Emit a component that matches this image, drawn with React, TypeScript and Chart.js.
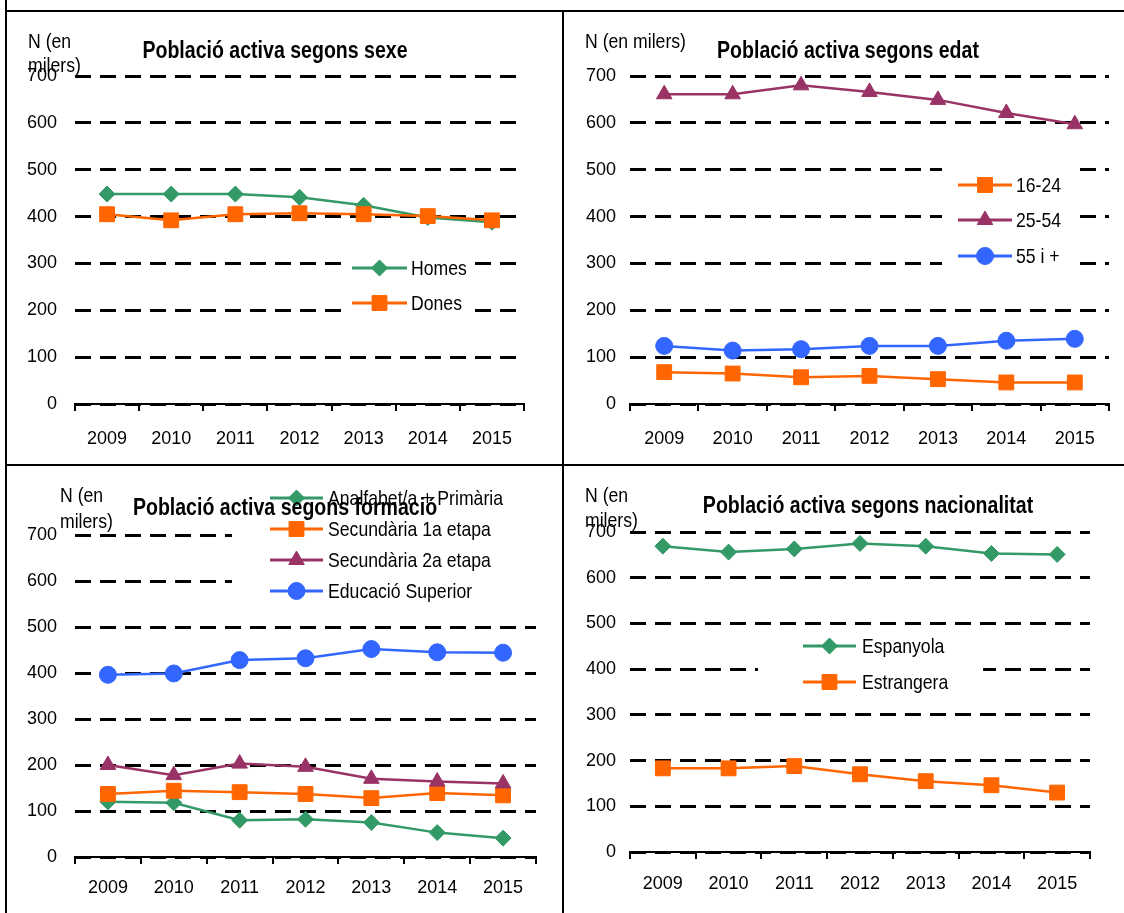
import React, { useEffect, useRef } from 'react';
import { Chart, registerables } from 'chart.js';

Chart.register(...registerables);

// ---------- data ----------
const YEARS = ['2009', '2010', '2011', '2012', '2013', '2014', '2015'];
const Y_MIN = 0;
const Y_MAX = 700;
const Y_STEP = 100;

const HOMES = [448, 448, 448, 441, 424, 398, 388];
const DONES = [405, 392, 405, 407, 405, 401, 392];

const EDAT_16_24 = [68, 65, 57, 60, 53, 46, 46];
const EDAT_25_54 = [661, 661, 680, 666, 649, 621, 597];
const EDAT_55_MES = [124, 114, 117, 124, 124, 135, 139];

const ANALF_PRIMARIA = [120, 118, 80, 82, 75, 53, 41];
const SECUNDARIA_1A = [137, 144, 141, 137, 128, 139, 134];
const SECUNDARIA_2A = [200, 178, 203, 196, 170, 164, 160];
const EDUCACIO_SUPERIOR = [396, 399, 428, 432, 452, 445, 444];

const ESPANYOLA = [669, 656, 663, 675, 669, 653, 651];
const ESTRANGERA = [183, 183, 188, 170, 155, 146, 130];

// ---------- styles ----------
const FONT = '"Liberation Sans", Arial, sans-serif';
const TICK_SIZE = 18;
const NARROW = 0.84;
const GREEN = '#339966';
const ORANGE = '#FF6600';
const PURPLE = '#993366';
const BLUE = '#3366FF';

type Shape = 'rectRot' | 'rect' | 'triangle' | 'circle';
type SStyle = { color: string; shape: Shape; radius: number };

const S_DIAMOND: SStyle = { color: GREEN, shape: 'rectRot', radius: 8 };
const S_SQUARE: SStyle = { color: ORANGE, shape: 'rect', radius: 10.5 };
const S_TRIANGLE: SStyle = { color: PURPLE, shape: 'triangle', radius: 9 };
const S_CIRCLE: SStyle = { color: BLUE, shape: 'circle', radius: 8.5 };

type Series = { label: string; data: number[]; style: SStyle };

type PanelSpec = {
  key: string;
  left: number; top: number; width: number; height: number;
  area: { left: number; right: number; top: number; bottom: number };
  yPad: number; xPad: number;
  title: { text: string; x: number; y: number };
  nLabel: { lines: string[]; x: number; y: number[] };
  legend: { box: [number, number, number, number]; rows: number[]; x1: number; x2: number; tx: number };
  series: Series[];
};

const PANELS: PanelSpec[] = [
  {
    key: 'sexe', left: 7, top: 12, width: 556, height: 452,
    area: { left: 68, right: 517, top: 64, bottom: 392 }, yPad: 18, xPad: 17,
    title: { text: 'Població activa segons sexe', x: 268, y: 40 },
    nLabel: { lines: ['N (en', 'milers)'], x: 21, y: [30, 54] },
    legend: { box: [336, 236, 130, 74], rows: [256, 291], x1: 345, x2: 400, tx: 404 },
    series: [
      { label: 'Homes', data: HOMES, style: S_DIAMOND },
      { label: 'Dones', data: DONES, style: S_SQUARE },
    ],
  },
  {
    key: 'edat', left: 564, top: 12, width: 560, height: 452,
    area: { left: 66, right: 545, top: 64, bottom: 392 }, yPad: 14, xPad: 17,
    title: { text: 'Població activa segons edat', x: 284, y: 40 },
    nLabel: { lines: ['N (en milers)'], x: 21, y: [30] },
    legend: { box: [378, 150, 134, 116], rows: [173, 208, 244], x1: 394, x2: 448, tx: 452 },
    series: [
      { label: '16-24', data: EDAT_16_24, style: S_SQUARE },
      { label: '25-54', data: EDAT_25_54, style: S_TRIANGLE },
      { label: '55 i +', data: EDAT_55_MES, style: S_CIRCLE },
    ],
  },
  {
    key: 'formacio', left: 7, top: 466, width: 556, height: 447,
    area: { left: 68, right: 529, top: 69, bottom: 391 }, yPad: 18, xPad: 13,
    title: { text: 'Població activa segons formació', x: 278, y: 43 },
    nLabel: { lines: ['N (en', 'milers)'], x: 53, y: [30, 56] },
    legend: { box: [225, 14, 331, 129], rows: [32, 63, 94, 125], x1: 263, x2: 316, tx: 321 },
    series: [
      { label: 'Analfabet/a + Primària', data: ANALF_PRIMARIA, style: S_DIAMOND },
      { label: 'Secundària 1a etapa', data: SECUNDARIA_1A, style: S_SQUARE },
      { label: 'Secundària 2a etapa', data: SECUNDARIA_2A, style: S_TRIANGLE },
      { label: 'Educació Superior', data: EDUCACIO_SUPERIOR, style: S_CIRCLE },
    ],
  },
  {
    key: 'nacionalitat', left: 564, top: 466, width: 560, height: 447,
    area: { left: 66, right: 526, top: 66, bottom: 386 }, yPad: 14, xPad: 14,
    title: { text: 'Població activa segons nacionalitat', x: 304, y: 41 },
    nLabel: { lines: ['N (en', 'milers)'], x: 21, y: [30, 55] },
    legend: { box: [194, 162, 225, 74], rows: [180, 216], x1: 239, x2: 292, tx: 298 },
    series: [
      { label: 'Espanyola', data: ESPANYOLA, style: S_DIAMOND },
      { label: 'Estrangera', data: ESTRANGERA, style: S_SQUARE },
    ],
  },
];

function drawMarker(ctx: CanvasRenderingContext2D, st: SStyle, x: number, y: number) {
  const r = st.radius;
  ctx.beginPath();
  if (st.shape === 'circle') {
    ctx.arc(x, y, r, 0, Math.PI * 2);
  } else if (st.shape === 'rect') {
    const s = Math.SQRT1_2 * r;
    ctx.rect(x - s, y - s, 2 * s, 2 * s);
  } else if (st.shape === 'rectRot') {
    ctx.moveTo(x - r, y);
    ctx.lineTo(x, y - r);
    ctx.lineTo(x + r, y);
    ctx.lineTo(x, y + r);
    ctx.closePath();
  } else {
    let a = 0;
    ctx.moveTo(x + Math.sin(a) * r, y - Math.cos(a) * r);
    a += (2 * Math.PI) / 3;
    ctx.lineTo(x + Math.sin(a) * r, y - Math.cos(a) * r);
    a += (2 * Math.PI) / 3;
    ctx.lineTo(x + Math.sin(a) * r, y - Math.cos(a) * r);
    ctx.closePath();
  }
  ctx.fillStyle = st.color;
  ctx.fill();
  ctx.lineWidth = 1;
  ctx.strokeStyle = st.color;
  ctx.stroke();
}

// condensed text (emulates a narrow sans face)
function narrowText(
  ctx: CanvasRenderingContext2D, text: string, x: number, y: number,
  font: string, align: CanvasTextAlign, sx: number
) {
  ctx.save();
  ctx.translate(x, y);
  ctx.scale(sx, 1);
  ctx.font = font;
  ctx.textAlign = align;
  ctx.textBaseline = 'middle';
  ctx.fillStyle = '#000';
  ctx.fillText(text, 0, 0);
  ctx.restore();
}

function makeDecor(spec: PanelSpec) {
  return {
    id: 'decor_' + spec.key,
    beforeDatasetsDraw(chart: any) {
      const ctx: CanvasRenderingContext2D = chart.ctx;
      const L = spec.legend;
      ctx.save();
      ctx.fillStyle = '#ffffff';
      ctx.fillRect(L.box[0], L.box[1], L.box[2], L.box[3]);
      spec.series.forEach((s, i) => {
        const y = L.rows[i];
        ctx.strokeStyle = s.style.color;
        ctx.lineWidth = 3;
        ctx.beginPath();
        ctx.moveTo(L.x1, y);
        ctx.lineTo(L.x2, y);
        ctx.stroke();
        drawMarker(ctx, s.style, (L.x1 + L.x2) / 2, y);
        narrowText(ctx, s.label, L.tx, y + 1, `21px ${FONT}`, 'left', NARROW);
      });
      ctx.restore();
    },
    afterDraw(chart: any) {
      const ctx: CanvasRenderingContext2D = chart.ctx;
      spec.nLabel.lines.forEach((t, i) =>
        narrowText(ctx, t, spec.nLabel.x, spec.nLabel.y[i], `21px ${FONT}`, 'left', NARROW)
      );
      narrowText(ctx, spec.title.text, spec.title.x, spec.title.y, `bold 23px ${FONT}`, 'center', 0.85);
    },
  };
}

function Panel({ spec }: { spec: PanelSpec }) {
  const ref = useRef<HTMLCanvasElement | null>(null);
  useEffect(() => {
    const canvas = ref.current;
    if (!canvas) return;
    const n = spec.series.length;
    const chart = new Chart(canvas, {
      type: 'line',
      data: {
        labels: YEARS,
        datasets: spec.series.map((s, i) => ({
          label: s.label,
          data: s.data,
          borderColor: s.style.color,
          backgroundColor: s.style.color,
          borderWidth: 2.5,
          pointStyle: s.style.shape,
          pointRadius: s.style.radius,
          pointHoverRadius: s.style.radius,
          pointBackgroundColor: s.style.color,
          pointBorderColor: s.style.color,
          pointBorderWidth: 1,
          tension: 0,
          fill: false,
          order: n - 1 - i,
        })),
      },
      options: {
        animation: false,
        responsive: false,
        maintainAspectRatio: false,
        events: [],
        layout: {
          padding: { left: 0, top: spec.area.top, right: spec.width - spec.area.right, bottom: 0 },
        },
        plugins: {
          legend: { display: false },
          title: { display: false },
          tooltip: { enabled: false },
        },
        scales: {
          x: {
            offset: true,
            grid: {
              offset: true,
              drawOnChartArea: false,
              drawTicks: true,
              tickLength: 7,
              color: '#000',
              lineWidth: 2,
            },
            border: { display: true, color: '#000', width: 2 },
            ticks: {
              color: '#000',
              font: { family: FONT, size: TICK_SIZE },
              padding: spec.xPad,
              maxRotation: 0,
              autoSkip: false,
            },
            afterFit: (s: any) => {
              s.height = spec.height - spec.area.bottom;
            },
          },
          y: {
            min: Y_MIN,
            max: Y_MAX,
            ticks: {
              stepSize: Y_STEP,
              color: '#000',
              font: { family: FONT, size: TICK_SIZE },
              padding: spec.yPad,
            },
            grid: { color: '#000', lineWidth: 3, drawTicks: false },
            border: { display: false, dash: [16, 9] },
            afterFit: (s: any) => {
              s.width = spec.area.left;
            },
          },
        },
      },
      plugins: [makeDecor(spec)],
    } as any);
    return () => chart.destroy();
  }, [spec]);
  return (
    <canvas
      ref={ref}
      width={spec.width}
      height={spec.height}
      style={{ position: 'absolute', left: spec.left, top: spec.top, width: spec.width, height: spec.height }}
    />
  );
}

export default function App() {
  const line = (l: number, t: number, w: number, h: number) => (
    <div style={{ position: 'absolute', left: l, top: t, width: w, height: h, background: '#000' }} />
  );
  return (
    <div style={{ position: 'absolute', left: 0, top: 0, width: 1124, height: 913, background: '#fff', overflow: 'hidden' }}>
      {PANELS.map((p) => (
        <Panel key={p.key} spec={p} />
      ))}
      {line(5, 0, 2, 913)}
      {line(5, 10, 1119, 2)}
      {line(562, 10, 2, 903)}
      {line(5, 464, 1119, 2)}
    </div>
  );
}
